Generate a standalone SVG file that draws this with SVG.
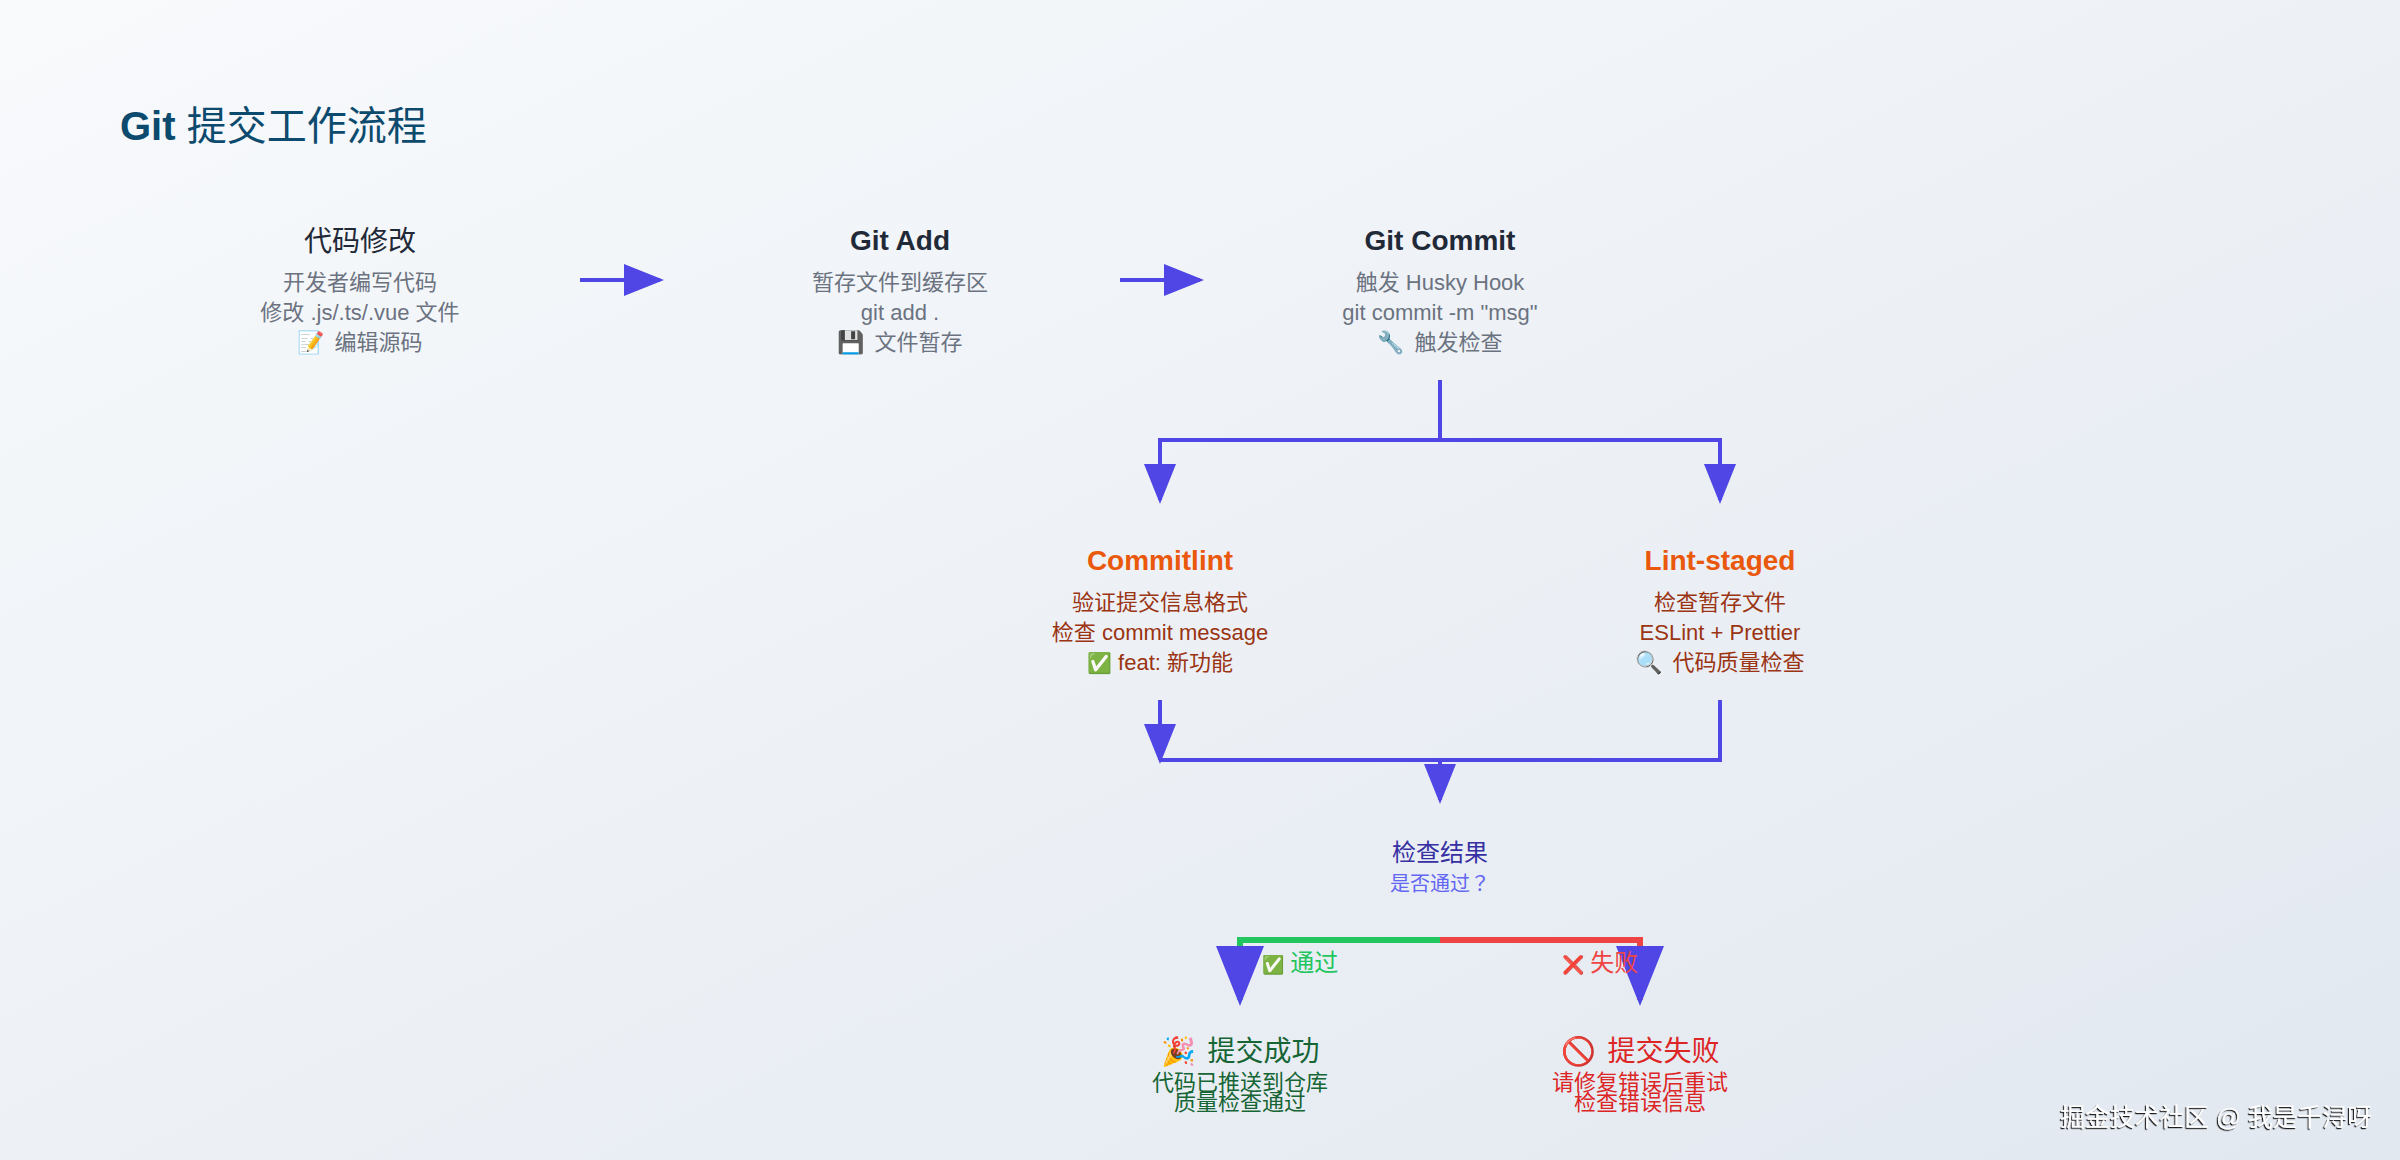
<svg xmlns="http://www.w3.org/2000/svg" width="2400" height="1160" viewBox="0 0 2400 1160">
<style>
text{font-family:"Liberation Sans","Noto Sans CJK SC",sans-serif;text-anchor:middle}
.t{font-size:28px;fill:#1f2937}.b{font-weight:700}
.s{font-size:22px;fill:#6b7280}
.ot{fill:#ea580c}.os{fill:#9a3412}
.l{fill:none;stroke:#4f46e5;stroke-width:4}
.g{fill:#166534}.r{fill:#dc2626}
.e{font-size:18px}
</style>
<defs>
<linearGradient id="bg" x1="0" y1="0" x2="1" y2="1"><stop offset="0" stop-color="#f8fafc"/><stop offset="1" stop-color="#e2e8f0"/></linearGradient>
<marker id="arrow" markerWidth="10" markerHeight="8" refX="9" refY="4" orient="auto"><polygon points="0 0,10 4,0 8" fill="#4f46e5"/></marker>
<filter id="shadow" x="-5%" y="-20%" width="110%" height="140%"><feDropShadow dx="-1.2" dy="1.2" stdDeviation="0.5" flood-color="#000" flood-opacity="0.9"/></filter>
</defs>
<rect width="2400" height="1160" fill="url(#bg)"/>
<text x="120" y="140" font-size="40" fill="#0c4a6e" style="text-anchor:start"><tspan class="b">Git</tspan> 提交工作流程</text>
<g id="connectors">
<path class="l" marker-end="url(#arrow)" d="M580 280H660"/>
<path class="l" marker-end="url(#arrow)" d="M1120 280H1200"/>
<path class="l" marker-end="url(#arrow)" d="M1440 380V440H1160V500"/>
<path class="l" marker-end="url(#arrow)" d="M1440 380V440H1720V500"/>
<path class="l" marker-end="url(#arrow)" d="M1160 700V760"/>
<path class="l" d="M1720 700V760H1160"/>
<path class="l" marker-end="url(#arrow)" d="M1440 760V800"/>
<path fill="none" stroke="#22c55e" stroke-width="6" marker-end="url(#arrow)" d="M1440 940H1240V1000"/>
<path fill="none" stroke="#ef4444" stroke-width="6" marker-end="url(#arrow)" d="M1440 940H1640V1000"/>
<text x="1300" y="971" font-size="24" fill="#22c55e"><tspan class="e">✅</tspan> 通过</text>
<text x="1600" y="971" font-size="24" fill="#ef4444"><tspan class="e">❌</tspan> 失败</text>
</g>
<g id="node-edit"><text class="t" x="360" y="251">代码修改</text><text class="s" x="360" y="290">开发者编写代码</text><text class="s" x="360" y="320">修改 .js/.ts/.vue 文件</text><text class="s" x="360" y="350">📝<tspan dx="4"> 编辑源码</tspan></text></g>
<g id="node-add"><text class="t b" x="900" y="250">Git Add</text><text class="s" x="900" y="290">暂存文件到缓存区</text><text class="s" x="900" y="320">git add .</text><text class="s" x="900" y="350">💾<tspan dx="4"> 文件暂存</tspan></text></g>
<g id="node-commit"><text class="t b" x="1440" y="250">Git Commit</text><text class="s" x="1440" y="290">触发 Husky Hook</text><text class="s" x="1440" y="320">git commit -m "msg"</text><text class="s" x="1440" y="350">🔧<tspan dx="4"> 触发检查</tspan></text></g>
<g id="node-commitlint"><text class="t b ot" x="1160" y="570">Commitlint</text><text class="s os" x="1160" y="610">验证提交信息格式</text><text class="s os" x="1160" y="640">检查 commit message</text><text class="s os" x="1160" y="670"><tspan font-size="20">✅</tspan> feat: 新功能</text></g>
<g id="node-lintstaged"><text class="t b ot" x="1720" y="570">Lint-staged</text><text class="s os" x="1720" y="610">检查暂存文件</text><text class="s os" x="1720" y="640">ESLint + Prettier</text><text class="s os" x="1720" y="670">🔍<tspan dx="4"> 代码质量检查</tspan></text></g>
<g id="node-result"><text x="1440" y="861" font-size="24" fill="#3730a3">检查结果</text><text x="1440" y="891" font-size="20" fill="#6366f1">是否通过<tspan style="font-family:'Noto Sans CJK TC',sans-serif">？</tspan></text></g>
<g id="node-success"><text class="g" x="1240" y="1061" font-size="28">🎉<tspan dx="4"> 提交成功</tspan></text><text class="g" x="1240" y="1090" font-size="22">代码已推送到仓库</text><text class="g" x="1240" y="1110" font-size="22">质量检查通过</text></g>
<g id="node-fail"><text class="r" x="1640" y="1061" font-size="28">🚫<tspan dx="4"> 提交失败</tspan></text><text class="r" x="1640" y="1090" font-size="22">请修复错误后重试</text><text class="r" x="1640" y="1110" font-size="22">检查错误信息</text></g>
<text x="2372" y="1126" font-size="24.8" fill="#fff" filter="url(#shadow)" style="text-anchor:end">掘金技术社区 @ 我是千浔呀</text>
</svg>
